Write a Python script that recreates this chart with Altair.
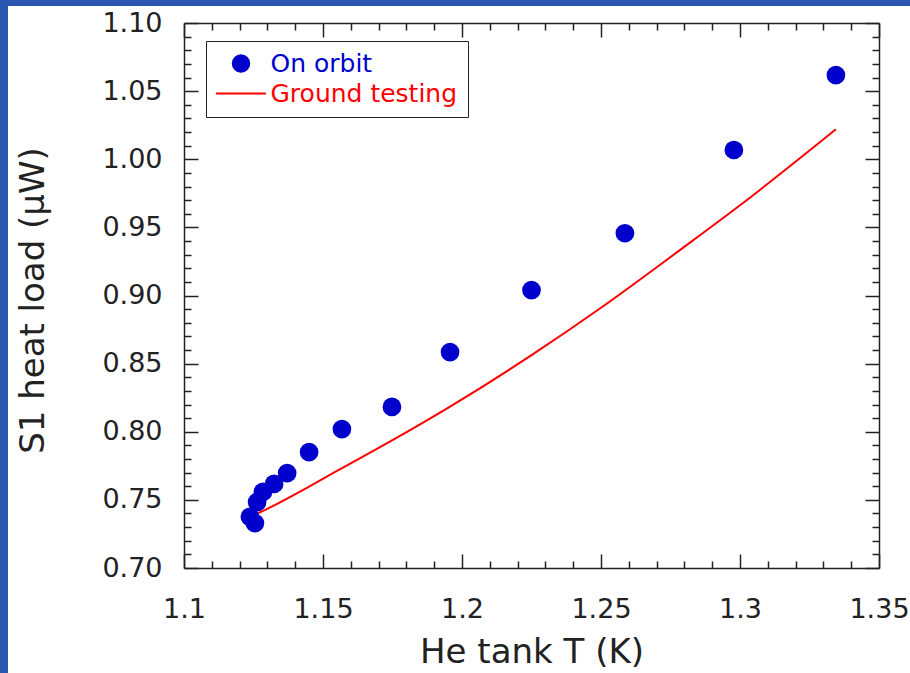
import altair as alt
import pandas as pd

# ---- data ----
orbit_T = [1.1237, 1.1255, 1.1263, 1.1284, 1.1324, 1.1371, 1.1450, 1.1568,
           1.1748, 1.1957, 1.2250, 1.2586, 1.2978, 1.3345]
orbit_load = [0.7376, 0.7330, 0.7484, 0.7558, 0.7617, 0.7697, 0.7851, 0.8020,
              0.8182, 0.8585, 0.9040, 0.9457, 1.0068, 1.0618]

ground_T = [1.1215, 1.1310, 1.1450, 1.1550, 1.1750, 1.1960, 1.2250, 1.2500,
            1.2785, 1.3000, 1.3345]
ground_load = [0.7352, 0.7445, 0.7598, 0.7712, 0.7938, 0.8188, 0.8562, 0.8910,
               0.9335, 0.9662, 1.0220]

series_names = ["On orbit", "Ground testing"]
series_colors = ["#0000CC", "#FF0000"]

x_major = [1.1, 1.15, 1.2, 1.25, 1.3, 1.35]
x_minor = [round(1.1 + 0.01 * i, 2) for i in range(26) if i % 5 != 0]
y_major = [0.70, 0.75, 0.80, 0.85, 0.90, 0.95, 1.00, 1.05, 1.10]
y_minor = [round(0.70 + 0.01 * i, 2) for i in range(41) if i % 5 != 0]

orbit_df = pd.DataFrame({"T": orbit_T, "load": orbit_load, "series": series_names[0]})
ground_df = pd.DataFrame({"T": ground_T, "load": ground_load, "series": series_names[1]})

FONT = "DejaVu Sans"
AX = "#222222"
BLUE_BG = "#2856B0"
W, H = 695, 545

x_scale = alt.Scale(domain=[1.1, 1.35], nice=False, zero=False)
y_scale = alt.Scale(domain=[0.70, 1.10], nice=False, zero=False)
color_scale = alt.Scale(domain=series_names, range=series_colors)


def tick_axis(orient, vals, size):
    return alt.Axis(orient=orient, values=vals, offset=-size, tickSize=size,
                    tickWidth=1.5, tickColor=AX, domain=False, labels=False,
                    grid=False, title=None)


def edge_axis(orient):
    return alt.Axis(orient=orient, labels=False, ticks=False, domain=True,
                    domainColor=AX, domainWidth=1.5, grid=False, title=None)


legend = alt.Legend(
    orient="none", legendX=22, legendY=18, title=None,
    padding=10, strokeColor=AX, fillColor="white",
    labelFont=FONT, labelFontSize=25, labelLimit=400,
    labelColor={"expr": "datum.value === 'On orbit' ? '#0000CC' : '#FF0000'"},
    symbolType={"expr": "datum.value === 'On orbit' ? 'circle' : 'M-2.7,0H2.7'"},
    symbolStrokeColor={"expr": "datum.value === 'On orbit' ? null : '#FF0000'"},
    symbolStrokeWidth=2, symbolSize=342, symbolOpacity=1,
    symbolOffset=12.5, labelOffset=17, rowPadding=4,
)

points = alt.Chart(orbit_df).mark_circle(size=350, opacity=1).encode(
    x=alt.X("T:Q", scale=x_scale, axis=alt.Axis(
        orient="bottom", values=x_major, format="~g", labelFont=FONT,
        labelFontSize=27, labelColor=AX, labelPadding=28, ticks=False,
        tickSize=0, domain=True, domainColor=AX, domainWidth=1.5,
        labelFlush=False, labelOverlap=False, grid=False,
        title="He tank T (K)", titleFont=FONT, titleFontSize=34,
        titleFontWeight="normal", titleColor=AX, titleY=94,
        titleBaseline="alphabetic")),
    y=alt.Y("load:Q", scale=y_scale, axis=alt.Axis(
        orient="left", values=y_major, format=".2f", labelFont=FONT,
        labelFontSize=27, labelColor=AX, labelPadding=22, ticks=False,
        tickSize=0, domain=True, domainColor=AX, domainWidth=1.5,
        labelOverlap=False, grid=False,
        title="S1 heat load (μW)", titleFont=FONT, titleFontSize=34,
        titleFontWeight="normal", titleColor=AX, titleAngle=270,
        titleX=-141, titleY=277, titleBaseline="alphabetic")),
    color=alt.Color("series:N", scale=color_scale, legend=legend),
)

line = alt.Chart(ground_df).mark_line(
    strokeWidth=2, color=series_colors[1], interpolate="monotone"
).encode(
    x=alt.X("T:Q", scale=x_scale, axis=edge_axis("top")),
    y=alt.Y("load:Q", scale=y_scale, axis=edge_axis("right")),
)


def ticks_layer(xo, xv, xs, yo, yv, ys):
    return alt.Chart(ground_df).mark_line(opacity=0).encode(
        x=alt.X("T:Q", scale=x_scale, axis=tick_axis(xo, xv, xs)),
        y=alt.Y("load:Q", scale=y_scale, axis=tick_axis(yo, yv, ys)),
    )


t1 = ticks_layer("bottom", x_major, 14, "left", y_major, 14)
t2 = ticks_layer("bottom", x_minor, 7, "left", y_minor, 7)
t3 = ticks_layer("top", x_major, 14, "right", y_major, 14)
t4 = ticks_layer("top", x_minor, 7, "right", y_minor, 7)

frame_df = pd.DataFrame({"k": [0]})
left_strip = alt.Chart(frame_df).mark_rect(color=BLUE_BG).encode(
    x=alt.value(-184), x2=alt.value(-176), y=alt.value(-23), y2=alt.value(H + 105))
top_strip = alt.Chart(frame_df).mark_rect(color=BLUE_BG).encode(
    x=alt.value(-184), x2=alt.value(W + 31), y=alt.value(-23), y2=alt.value(-17))

chart = alt.layer(
    left_strip, top_strip, line, points, t1, t2, t3, t4
).resolve_scale(
    x="shared", y="shared", color="shared"
).resolve_axis(
    x="independent", y="independent"
).properties(
    width=W, height=H, background="white",
    padding={"left": 184, "top": 23, "right": 31, "bottom": 105},
    autosize=alt.AutoSizeParams(type="none"),
).configure_view(stroke=None)

chart.save("out.html", embed_options={"renderer": "svg", "actions": False})
